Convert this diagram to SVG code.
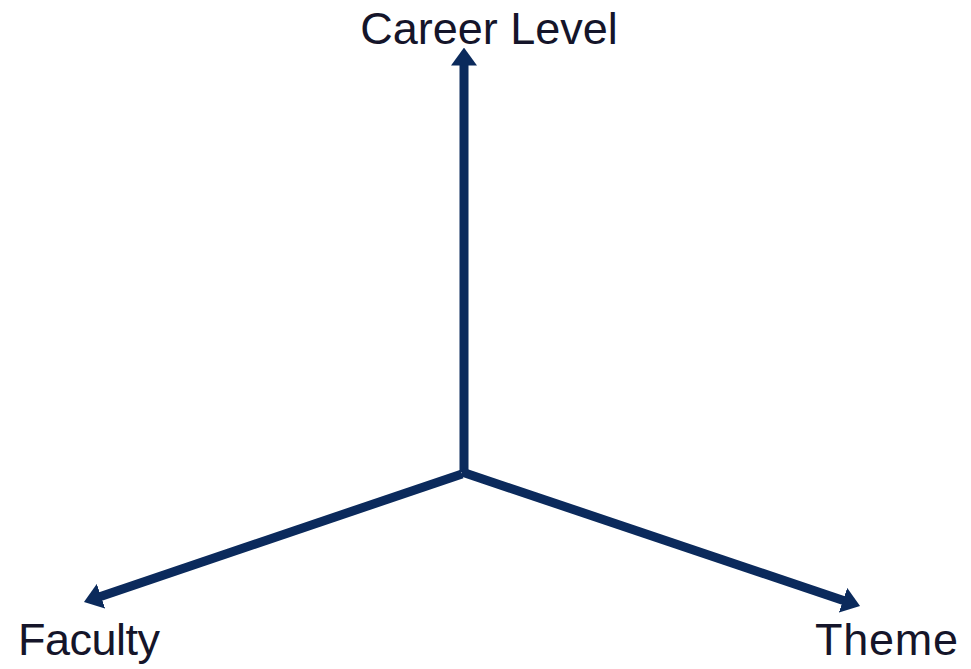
<svg xmlns="http://www.w3.org/2000/svg" width="971" height="669" viewBox="0 0 971 669">
<style>
.ax{stroke:#0b2a5c;stroke-width:9;fill:none;stroke-linecap:butt}
.lbl{font-family:"Liberation Sans","DejaVu Sans",sans-serif;font-size:45px;fill:#15152a}
</style>
<defs>
<marker id="ah" viewBox="0 0 10 10" refX="2" refY="5" markerWidth="2" markerHeight="2.9" orient="auto" markerUnits="strokeWidth" preserveAspectRatio="none">
<path d="M0,0 L10,5 L0,10 Z" fill="#0b2a5c"/>
</marker>
</defs>
<rect width="971" height="669" fill="#ffffff"/>
<g id="connectors">
<path class="ax" d="M464,472 L464,62" marker-end="url(#ah)"/>
<path class="ax" d="M462,474 L97.6,597.4" marker-end="url(#ah)"/>
<path class="ax" d="M462,472 L846.4,601.4" marker-end="url(#ah)"/>
</g>
<g id="career-level"><text class="lbl" x="489" y="44" text-anchor="middle">Career Level</text></g>
<g id="faculty"><text class="lbl" x="18" y="655" textLength="142" lengthAdjust="spacing">Faculty</text></g>
<g id="theme"><text class="lbl" x="815" y="655" textLength="143" lengthAdjust="spacing">Theme</text></g>
</svg>
